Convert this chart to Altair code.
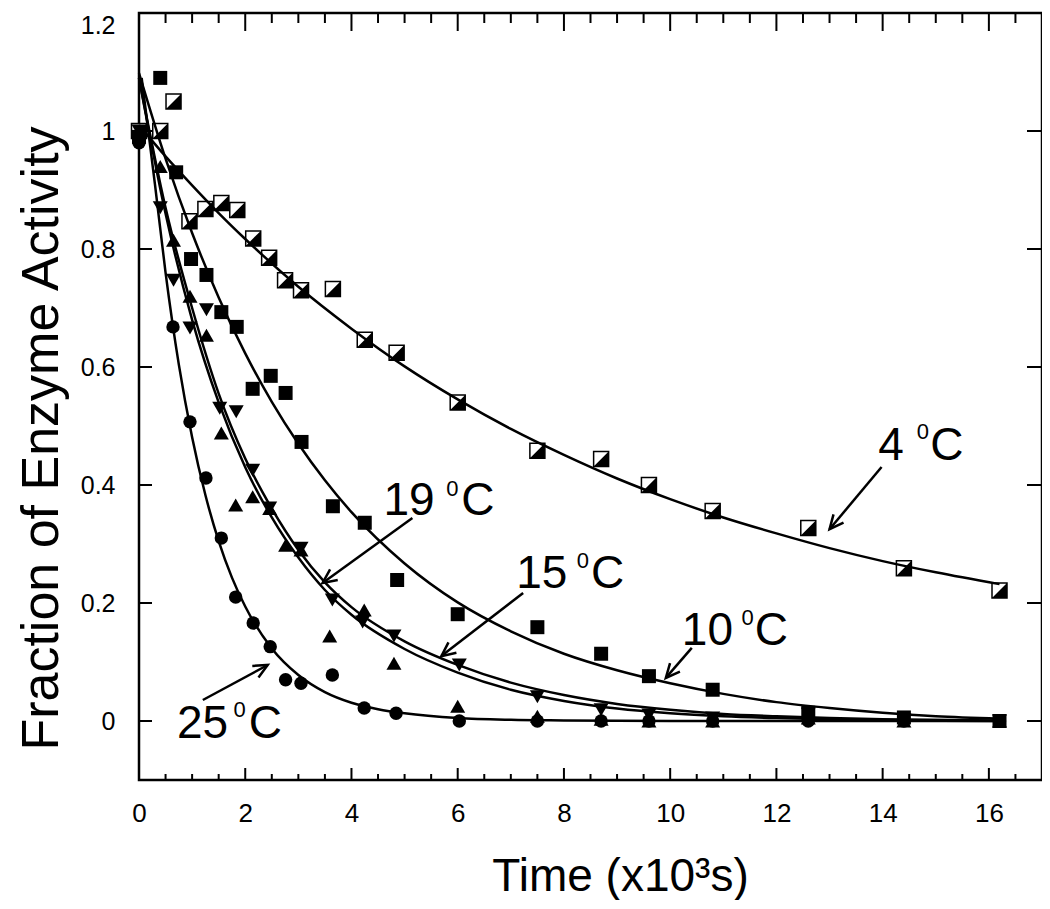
import altair as alt
import pandas as pd

# ---------------- data ----------------
# 4 C  (half-filled squares)
t4 = [0, 0.4, 0.65, 0.95, 1.25, 1.55, 1.85, 2.15, 2.45, 2.75, 3.05, 3.65, 4.25, 4.85, 6.0, 7.5, 8.7, 9.6, 10.8, 12.6, 14.4, 16.2]
v4 = [1.0, 1.0, 1.05, 0.847, 0.868, 0.878, 0.866, 0.818, 0.785, 0.747, 0.73, 0.732, 0.646, 0.624, 0.54, 0.458, 0.444, 0.40, 0.356, 0.327, 0.259, 0.221]
# 10 C (filled squares)
t10 = [0, 0.4, 0.7, 0.98, 1.27, 1.55, 1.84, 2.14, 2.48, 2.76, 3.06, 3.65, 4.25, 4.86, 6.0, 7.5, 8.7, 9.6, 10.8, 12.6, 14.4, 16.2]
v10 = [0.99, 1.09, 0.93, 0.783, 0.756, 0.693, 0.668, 0.563, 0.585, 0.556, 0.473, 0.364, 0.336, 0.239, 0.181, 0.159, 0.114, 0.076, 0.053, 0.014, 0.006, 0.0]
# 15 C (down triangles)
t15 = [0, 0.4, 0.65, 0.96, 1.27, 1.52, 1.83, 2.14, 2.46, 3.05, 3.64, 4.21, 4.8, 6.03, 7.5, 8.7, 9.6, 10.8, 12.6, 14.4, 16.2]
v15 = [1.0, 0.87, 0.747, 0.666, 0.697, 0.53, 0.524, 0.425, 0.361, 0.293, 0.205, 0.168, 0.144, 0.095, 0.041, 0.019, 0.01, 0.005, 0.012, 0.002, 0.0]
# 19 C (up triangles)
t19 = [0, 0.4, 0.65, 0.96, 1.27, 1.55, 1.82, 2.14, 2.46, 2.76, 3.05, 3.59, 4.24, 4.8, 6.0, 7.5, 8.7, 9.6, 10.8, 12.6, 14.4, 16.2]
v19 = [1.0, 0.94, 0.815, 0.72, 0.654, 0.488, 0.366, 0.38, 0.36, 0.298, 0.29, 0.144, 0.188, 0.098, 0.025, 0.008, 0.003, 0.0, 0.0, 0.005, 0.0, 0.0]
# 25 C (circles)
t25 = [0, 0.64, 0.96, 1.26, 1.55, 1.82, 2.15, 2.47, 2.76, 3.05, 3.64, 4.24, 4.84, 6.03, 7.5, 8.7, 9.6, 10.8, 12.6, 14.4, 16.2]
v25 = [0.98, 0.668, 0.507, 0.412, 0.31, 0.21, 0.166, 0.126, 0.07, 0.064, 0.078, 0.022, 0.013, 0.0, 0.0, 0.0, 0.0, 0.0, 0.0, 0.0, 0.0]

# fitted curves
c4_t = [0, 0.5, 1, 1.5, 2, 3, 4, 5, 6, 7, 8, 9, 10, 11, 12, 13, 14, 15, 16.2]
c4_v = [1.01, 0.957, 0.908, 0.861, 0.817, 0.736, 0.665, 0.601, 0.545, 0.495, 0.451, 0.411, 0.376, 0.345, 0.318, 0.293, 0.271, 0.252, 0.232]
c10_t = [0, 0.5, 1, 1.5, 2, 2.5, 3, 3.5, 4, 5, 6, 7, 8, 9, 10, 11, 12, 13, 14, 15, 16.2]
c10_v = [1.098, 0.953, 0.827, 0.718, 0.623, 0.541, 0.470, 0.408, 0.354, 0.267, 0.201, 0.152, 0.114, 0.086, 0.064, 0.046, 0.032, 0.022, 0.014, 0.008, 0.004]
c15_t = [0, 0.5, 1, 1.5, 2, 2.5, 3, 3.5, 4, 5, 6, 7, 8, 9, 10, 11, 12, 13, 14, 16.2]
c15_v = [1.09, 0.87, 0.70, 0.555, 0.445, 0.36, 0.29, 0.235, 0.193, 0.135, 0.095, 0.065, 0.044, 0.029, 0.019, 0.012, 0.008, 0.005, 0.003, 0.001]
c19_t = [0, 0.5, 1, 1.5, 2, 2.5, 3, 3.5, 4, 5, 6, 7, 8, 9, 10, 11, 12, 13, 14, 16.2]
c19_v = [1.09, 0.86, 0.68, 0.54, 0.43, 0.345, 0.277, 0.222, 0.18, 0.122, 0.082, 0.053, 0.034, 0.021, 0.013, 0.008, 0.005, 0.003, 0.001, 0.0]
c25_t = [0.05, 0.3, 0.5, 0.75, 1, 1.25, 1.5, 1.75, 2, 2.5, 3, 3.5, 4, 4.5, 5, 6, 7, 8, 10, 12, 14, 16.2]
c25_v = [1.09, 0.91, 0.76, 0.604, 0.481, 0.383, 0.305, 0.243, 0.194, 0.123, 0.078, 0.049, 0.031, 0.02, 0.013, 0.005, 0.002, 0.001, 0.0, 0.0, 0.0, 0.0]

# axis ticks / labels
x_major = [0, 2, 4, 6, 8, 10, 12, 14, 16]
x_minor = [0.5, 1, 1.5, 2.5, 3, 3.5, 4.5, 5, 5.5, 6.5, 7, 7.5, 8.5, 9, 9.5, 10.5, 11, 11.5,
           12.5, 13, 13.5, 14.5, 15, 15.5, 16.5]
y_major = [0, 0.2, 0.4, 0.6, 0.8, 1.0, 1.2]

# annotation labels (number, superscript 0, C)
lab_num = ["4", "19", "15", "10", "25"]
lab_num_t = [13.919, 4.602, 7.101, 10.219, 0.714]
lab_num_v = [0.4424, 0.349, 0.2254, 0.1288, -0.0288]
lab_sup_t = [14.640, 5.782, 8.243, 11.342, 1.781]
lab_sup_v = [0.478, 0.381, 0.259, 0.1627, 0.0068]
lab_c_t = [14.897, 6.069, 8.511, 11.591, 2.067]
# arrows: tail -> tip
arr_t = [13.98, 5.147, 7.232, 10.407, 1.202]
arr_v = [0.4305, 0.344, 0.217, 0.124, 0.0356]
arr_t2 = [13.0, 3.456, 5.692, 9.918, 2.423]
arr_v2 = [0.325, 0.234, 0.110, 0.073, 0.0949]
arr_angle = [130.0, 144.2, 142.5, 130.9, 331.7]

# ---------------- chart ----------------
W, H = 903, 767
FONT = "Liberation Sans, Arial, Helvetica, sans-serif"
xs = alt.Scale(domain=[0, 17], nice=False, zero=False)
ys = alt.Scale(domain=[-0.1, 1.2], nice=False, zero=False)

xaxis = alt.Axis(values=x_major, ticks=False, domain=False, grid=False, labelFlush=False,
                 labelFont=FONT, labelFontSize=26, labelColor="black", labelPadding=20,
                 title="Time (x10³s)", titleFont=FONT, titleFontSize=46,
                 titleFontWeight="normal", titleColor="black",
                 titleX=481, titleY=110, titleAlign="center", titleBaseline="alphabetic")
yaxis = alt.Axis(values=y_major, format="~g", ticks=False, domain=False, grid=False,
                 labelFlush=True, labelFlushOffset=0,
                 labelFont=FONT, labelFontSize=25, labelColor="black", labelPadding=24,
                 title="Fraction of Enzyme Activity", titleFont=FONT, titleFontSize=52,
                 titleFontWeight="normal", titleColor="black", titleAngle=270,
                 titleX=-82, titleY=425, titleAlign="center", titleBaseline="alphabetic")


def X(f="t"):
    return alt.X(f + ":Q", scale=xs, axis=xaxis)


def Y(f="v"):
    return alt.Y(f + ":Q", scale=ys, axis=yaxis)


def df(t, v):
    return pd.DataFrame({"t": t, "v": v})


def curve(t, v):
    return alt.Chart(df(t, v)).mark_line(color="black", strokeWidth=2.5,
                                          interpolate="monotone").encode(x=X(), y=Y())


def points(t, v, **kw):
    return alt.Chart(df(t, v)).mark_point(opacity=1, **kw).encode(x=X(), y=Y())


layers = []
# ticks (inward)
dmaj = pd.DataFrame({"t": x_major})
dmin = pd.DataFrame({"t": x_minor})
dy = pd.DataFrame({"v": y_major})
tk = dict(color="black", strokeWidth=2)
layers += [
    alt.Chart(dmaj).mark_rule(**tk).encode(x=X(), y=alt.value(H), y2=alt.value(H - 12)),
    alt.Chart(dmin).mark_rule(**tk).encode(x=X(), y=alt.value(H), y2=alt.value(H - 6)),
    alt.Chart(dmaj).mark_rule(**tk).encode(x=X(), y=alt.value(0), y2=alt.value(18)),
    alt.Chart(dmin).mark_rule(**tk).encode(x=X(), y=alt.value(0), y2=alt.value(10)),
    alt.Chart(dy).mark_rule(**tk).encode(y=Y(), x=alt.value(0), x2=alt.value(13)),
    alt.Chart(dy).mark_rule(**tk).encode(y=Y(), x=alt.value(W), x2=alt.value(W - 15)),
]

# markers
layers += [
    points(t4, v4, shape="square", filled=True, fill="white", stroke="black",
           strokeWidth=1.5, size=225),
    points(t4, v4, shape="M 1 -1 L 1 1 L -1 1 Z", filled=True, fill="black",
           strokeWidth=0, size=225),
    points(t10, v10, shape="square", filled=True, fill="black", size=196),
    points(t15, v15, shape="triangle-down", filled=True, fill="black", size=225),
    points(t19, v19, shape="triangle-up", filled=True, fill="black", size=225),
    points(t25, v25, shape="circle", filled=True, fill="black", size=180),
]

# fitted curves
layers += [curve(c4_t, c4_v), curve(c10_t, c10_v), curve(c15_t, c15_v),
           curve(c19_t, c19_v), curve(c25_t, c25_v)]

# arrows
darr = pd.DataFrame({"t": arr_t, "v": arr_v, "t2": arr_t2, "v2": arr_v2, "a": arr_angle})
layers += [
    alt.Chart(darr).mark_rule(color="black", strokeWidth=2.5).encode(
        x=X(), y=Y(), x2="t2:Q", y2="v2:Q"),
    alt.Chart(darr).mark_point(shape="M -1.5 -0.7 L 0 0 L -1.5 0.7", filled=False,
                               stroke="black", strokeWidth=2.5, size=348, opacity=1).encode(
        x=X("t2"), y=Y("v2"), angle=alt.Angle("a:Q", scale=None)),
]

# labels
dnum = pd.DataFrame({"t": lab_num_t, "v": lab_num_v, "s": lab_num})
dsup = pd.DataFrame({"t": lab_sup_t, "v": lab_sup_v, "s": ["0"] * len(lab_num)})
dc = pd.DataFrame({"t": lab_c_t, "v": lab_num_v, "s": ["C"] * len(lab_num)})
txt = dict(font=FONT, color="black", align="left", baseline="alphabetic")
layers += [
    alt.Chart(dnum).mark_text(fontSize=46, **txt).encode(x=X(), y=Y(), text="s:N"),
    alt.Chart(dsup).mark_text(fontSize=22, **txt).encode(x=X(), y=Y(), text="s:N"),
    alt.Chart(dc).mark_text(fontSize=46, **txt).encode(x=X(), y=Y(), text="s:N"),
]

chart = alt.layer(*layers).properties(
    width=W, height=H,
    padding={"left": 131, "top": 5, "right": 0, "bottom": 120},
    autosize=alt.AutoSizeParams(type="none"),
    background="white",
).configure_view(stroke="black", strokeWidth=2.5)

chart.save("out.html", embed_options={"renderer": "svg", "actions": False})
